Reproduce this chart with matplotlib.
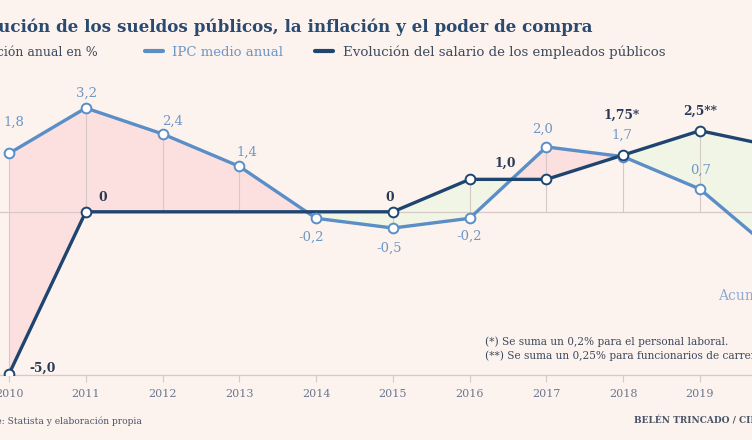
import numpy as np
import matplotlib
matplotlib.use("Agg")
import matplotlib.pyplot as plt

# data (2020 point lies just beyond the visible crop)
years = [2010, 2011, 2012, 2013, 2014, 2015, 2016, 2017, 2018, 2019, 2020]
ipc = [1.8, 3.2, 2.4, 1.4, -0.2, -0.5, -0.2, 2.0, 1.7, 0.7, -1.3]
salario = [-5.0, 0, 0, 0, 0, 0, 1.0, 1.0, 1.75, 2.5, 2.0]
salario_marcas = [2010, 2011, 2015, 2016, 2017, 2018, 2019, 2020]
salario_etiquetas = {2010: "-5,0", 2011: "0", 2015: "0", 2016: "1,0", 2018: "1,75*", 2019: "2,5**"}
tick_years = list(range(2010, 2020))

titulo = "Evolución de los sueldos públicos, la inflación y el poder de compra"
subtitulo = "Variación anual en %"
leyenda_ipc = "IPC medio anual"
leyenda_sal = "Evolución del salario de los empleados públicos"
notas = ["(*) Se suma un 0,2% para el personal laboral.",
         "(**) Se suma un 0,25% para funcionarios de carrera."]
fuente = "Fuente: Statista y elaboración propia"
firma = "BELÉN TRINCADO / CINCO DÍAS"

# colours
BG = "#fcf3ee"
C_IPC = "#5b8ec6"
C_SAL = "#1f4470"
C_IPC_TXT = "#6f96c6"
C_SAL_TXT = "#2a3a55"
PINK = "#fce0e0"
GREEN = "#f1f5e6"
GRID = "#d8c8c6"
FONT = "DejaVu Serif"

W, H = 752, 440
fig = plt.figure(figsize=(W / 100, H / 100), dpi=100, facecolor=BG)
ax = fig.add_axes([0, 1 - 375 / H, 1, (375 - 100) / H])
ax.set_facecolor(BG)

x = np.array(years, dtype=float)
y_ipc = np.array(ipc)
y_sal = np.array(salario)

# purchasing power gap
ax.fill_between(x, y_ipc, y_sal, where=y_ipc >= y_sal, interpolate=True,
                color=PINK, lw=0, zorder=1)
ax.fill_between(x, y_ipc, y_sal, where=y_ipc <= y_sal, interpolate=True,
                color=GREEN, lw=0, zorder=1)

# drop lines per year
for xi, a, b in zip(x, y_ipc, y_sal):
    lo, hi = min(a, b, 0), max(a, b, 0)
    ax.plot([xi, xi], [lo, hi], color=GRID, lw=0.8, zorder=2)

ax.axhline(0, color=GRID, lw=0.9, zorder=2)

ax.plot(x, y_ipc, color=C_IPC, lw=2.4, zorder=4, solid_capstyle="round")
ax.plot(x, y_ipc, ls="none", marker="o", ms=7, mfc="white", mec=C_IPC, mew=1.4, zorder=6)

ax.plot(x, y_sal, color=C_SAL, lw=2.4, zorder=5, solid_capstyle="round")
idx = [years.index(yr) for yr in salario_marcas]
ax.plot(x[idx], y_sal[idx], ls="none", marker="o", ms=7, mfc="white", mec=C_SAL, mew=1.4, zorder=7)

# value labels
ipc_off = {2010: (5, 31), 2011: (1, 15), 2012: (10, 13), 2013: (8, 14),
           2014: (-5, -19), 2015: (-4, -20), 2016: (-1, -18), 2017: (-4, 18),
           2018: (-1, 21), 2019: (1, 19), 2020: (0, -18)}
for yr, v in zip(years, ipc):
    txt = f"{v:.1f}".replace(".", ",")
    ax.annotate(txt, (yr, v), xytext=ipc_off[yr], textcoords="offset pixels",
                ha="center", va="center", color=C_IPC_TXT, fontsize=9.5,
                family=FONT, zorder=8)

sal_off = {2010: (34, 6), 2011: (17, 14), 2015: (-3, 14), 2016: (36, 16),
           2018: (-2, 40), 2019: (0, 19)}
for yr, txt in salario_etiquetas.items():
    v = salario[years.index(yr)]
    ax.annotate(txt, (yr, v), xytext=sal_off[yr], textcoords="offset pixels",
                ha="center", va="center", color=C_SAL_TXT, fontsize=8.8,
                fontweight="bold", family=FONT, zorder=8)

# axes
px_year = (700 - 9) / 9
x0 = 2010 - 9 / px_year
ax.set_xlim(x0, x0 + W / px_year)
ax.set_ylim(-5.03, (212 - 100) / 32.5)
for s in ["top", "left", "right"]:
    ax.spines[s].set_visible(False)
ax.spines["bottom"].set_color(GRID)
ax.spines["bottom"].set_linewidth(0.9)
ax.set_yticks([])
ax.set_xticks(tick_years)
ax.set_xticklabels([str(t) for t in tick_years], family=FONT, fontsize=8, color="#6b7790")
ax.tick_params(axis="x", length=5, width=0.8, color=GRID, pad=5)

# texts
fig.text(592 / W, 1 - 27 / H, titulo, ha="right", va="center", fontsize=12.1,
         fontweight="bold", color="#2b4a70", family=FONT)
fig.text(98 / W, 1 - 52 / H, subtitulo, ha="right", va="center", fontsize=9,
         color="#3d4a5e", family=FONT)
fig.add_artist(plt.Line2D([145 / W, 163 / W], [1 - 51 / H] * 2, color=C_IPC, lw=3,
                          solid_capstyle="round"))
fig.text(172 / W, 1 - 52 / H, leyenda_ipc, ha="left", va="center", fontsize=9.5,
         color=C_IPC_TXT, family=FONT)
fig.add_artist(plt.Line2D([315 / W, 333 / W], [1 - 51 / H] * 2, color=C_SAL, lw=3,
                          solid_capstyle="round"))
fig.text(343 / W, 1 - 52 / H, leyenda_sal, ha="left", va="center", fontsize=9.6,
         color="#3d4a5e", family=FONT)

fig.text(718 / W, 1 - 296 / H, "Acumulado", ha="left", va="center", fontsize=10,
         color="#8eaad0", family=FONT)
fig.text(485 / W, 1 - 342 / H, notas[0], ha="left", va="center", fontsize=7.6,
         color="#3d4a5e", family=FONT)
fig.text(485 / W, 1 - 356 / H, notas[1], ha="left", va="center", fontsize=7.6,
         color="#3d4a5e", family=FONT)

fig.text(142 / W, 1 - 421 / H, fuente, ha="right", va="center", fontsize=6.6,
         color="#4a5468", family=FONT)
fig.text(634 / W, 1 - 421 / H, firma, ha="left", va="center", fontsize=6.5,
         fontweight="bold", color="#4a5468", family=FONT)

fig.savefig("out.png", dpi=100, facecolor=BG)
